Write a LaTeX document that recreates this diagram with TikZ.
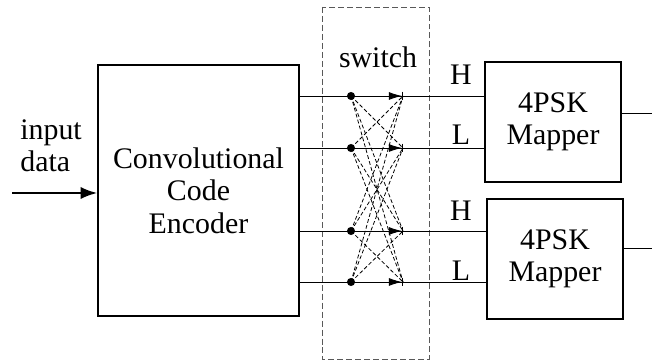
\documentclass[tikz,border=0pt]{standalone}
\usepackage{fontspec}
\setmainfont{Liberation Serif}
\usetikzlibrary{arrows.meta}

\tikzset{
  blockbox/.style={draw,line width=0.9pt,align=center,inner sep=0pt},
  sig/.style={line width=0.5pt},
  cross/.style={line width=0.45pt,dash pattern=on 2.2pt off 1.3pt},
  swtip/.style={-{Latex[length=7.5pt,width=4.5pt,sep=0pt]Bar[width=5pt,line width=0.5pt]}}
}

\begin{document}
\begin{tikzpicture}[x=0.02cm,y=-0.02cm,font=\fontsize{17}{18.5}\selectfont]
  \useasboundingbox (0,0) rectangle (652,364);
  % blocks
  \node[blockbox,minimum width=4.02cm,minimum height=5.02cm] (enc) at (198.5,190.5) {Convolutional\\Code\\Encoder};
  \node[blockbox,minimum width=2.72cm,minimum height=2.4cm] (map1) at (553,122) {4PSK\\Mapper};
  \node[blockbox,minimum width=2.72cm,minimum height=2.4cm] (map2) at (555,259) {4PSK\\Mapper};
  % switch
  \draw[gray!70!black,line width=0.5pt,dash pattern=on 3.4pt off 1.7pt] (322,7) rectangle (429,359);
  \node (sw) at (378,57) {switch};
  % input
  \coordinate (in) at (12,193);
  \draw[line width=1.2pt,-{Latex[length=9.5pt,width=7pt]}] (in) -- (enc.west |- in);
  \node[anchor=west,align=left,inner sep=0pt] (inlab) at (20,146) {input\\data};
  % switch paths
  \foreach \i/\y in {1/96,2/148,3/231,4/282} {
    \coordinate (d\i) at (351,\y);
    \coordinate (t\i) at (403,\y);
  }
  \foreach \i in {1,...,4} {
    \foreach \j in {1,...,4} {
      \ifnum\i=\j\else \draw[cross] (d\i) -- (t\j); \fi
    }
    \draw[sig] (enc.east |- d\i) -- (d\i);
    \draw[sig,swtip] (d\i) -- (t\i);
    \fill (d\i) circle (2.3pt);
  }
  \draw[sig] (t1) -- (map1.west |- t1);
  \draw[sig] (t2) -- (map1.west |- t2);
  \draw[sig] (t3) -- (map2.west |- t3);
  \draw[sig] (t4) -- (map2.west |- t4);
  \node (h1) at (461,75) {H};
  \node (l1) at (461,135) {L};
  \node (h2) at (461,211) {H};
  \node (l2) at (461,271) {L};
  % outputs
  \coordinate (o1) at (652,113);
  \coordinate (o2) at (652,248);
  \draw[sig] (map1.east |- o1) -- (o1);
  \draw[sig] (map2.east |- o2) -- (o2);
\end{tikzpicture}
\end{document}
